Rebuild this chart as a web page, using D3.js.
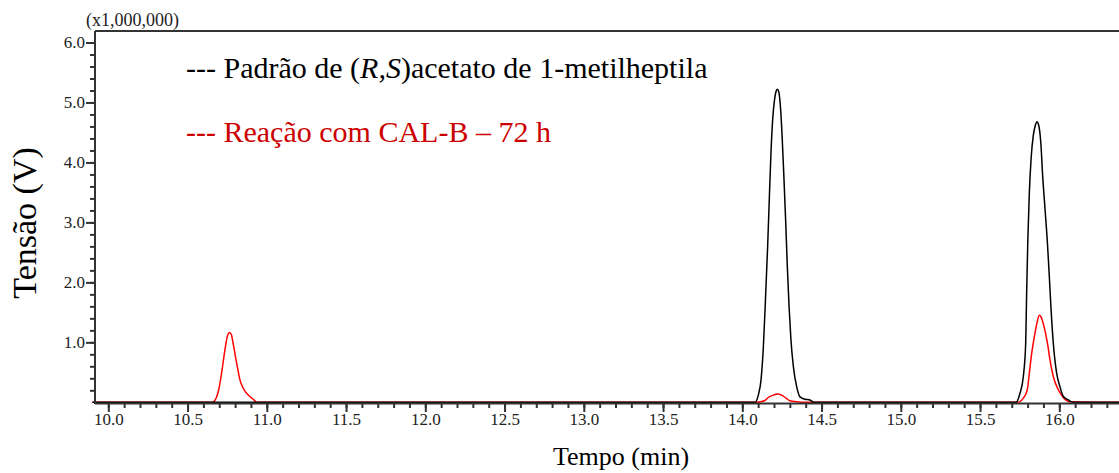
<!DOCTYPE html>
<html>
<head>
<meta charset="utf-8">
<script src="https://cdn.jsdelivr.net/npm/d3@7"></script>
<style>
    body { margin: 0; background: #fff; }
    text { font-family: "Liberation Serif", "Times New Roman", serif; }
    .axis path, .axis line { stroke: #333; stroke-width: 2; }
    .axis text { fill: #222; font-size: 17px; font-family: "Liberation Serif", serif; }
</style>
</head>
<body>
<div id="plot"></div>
<script>
// chromatogram traces (time in min, signal x1,000,000)
const blackTime = [9.9, 14.08, 14.101, 14.118, 14.133, 14.147, 14.16, 14.171, 14.181, 14.192, 14.204, 14.215, 14.221, 14.23, 14.24, 14.251, 14.263, 14.274, 14.284, 14.295, 14.307, 14.322, 14.343, 14.364, 14.396, 14.427, 14.452,
    15.727, 15.752, 15.773, 15.788, 15.794, 15.801, 15.811, 15.822, 15.836, 15.849, 15.859, 15.87, 15.883, 15.895, 15.91, 15.925, 15.937, 15.948, 15.962, 15.983, 16.004, 16.025, 16.057, 16.084, 16.4];
const blackSignal = [0, 0, 0.12, 0.37, 0.93, 1.77, 2.61, 3.44, 4.17, 4.73, 5.06, 5.2, 5.22, 5.18, 4.95, 4.45, 3.72, 3.0, 2.27, 1.6, 1.04, 0.6, 0.26, 0.09, 0.05, 0.04, 0,
    0, 0.15, 0.43, 0.99, 1.83, 2.66, 3.5, 4.06, 4.45, 4.62, 4.68, 4.62, 4.34, 3.78, 3.22, 2.66, 2.1, 1.55, 0.99, 0.49, 0.26, 0.1, 0.04, 0, 0];

const redTime = [9.9, 10.658, 10.694, 10.715, 10.736, 10.751, 10.764, 10.776, 10.789, 10.81, 10.831, 10.852, 10.883, 10.915, 10.936,
    14.091, 14.143, 14.164, 14.196, 14.221, 14.248, 14.276, 14.305, 14.343, 14.385,
    15.735, 15.773, 15.798, 15.811, 15.826, 15.843, 15.859, 15.874, 15.885, 15.903, 15.925, 15.941, 15.962, 15.994, 16.025, 16.067, 16.4];
const redSignal = [0, 0, 0.18, 0.49, 0.88, 1.1, 1.166, 1.13, 0.96, 0.65, 0.37, 0.23, 0.12, 0.05, 0,
    0, 0.03, 0.08, 0.12, 0.14, 0.12, 0.07, 0.02, 0.01, 0,
    0, 0.07, 0.21, 0.49, 0.82, 1.1, 1.32, 1.45, 1.42, 1.27, 0.99, 0.71, 0.43, 0.21, 0.08, 0.01, 0];

const xMajor = [10.0, 10.5, 11.0, 11.5, 12.0, 12.5, 13.0, 13.5, 14.0, 14.5, 15.0, 15.5, 16.0];
const xMinor = d3.range(100, 164).map(d => d / 10);
const yMajor = [1.0, 2.0, 3.0, 4.0, 5.0, 6.0];
const yMinor = d3.range(1, 31).map(d => d / 5);

const width = 1119, height = 473;
const plotLeft = 95, plotTop = 31, axisY = 403, zeroY = 402.3;

const svg = d3.select('#plot')
    .append('svg')
    .attr('width', width)
    .attr('height', height);

const x = d3.scaleLinear().domain([10, 16]).range([108.3, 1059.3]);
const y = d3.scaleLinear().domain([0, 6]).range([zeroY, 42.5]);

// frame top line
svg.append('line')
    .attr('x1', plotLeft).attr('x2', width)
    .attr('y1', plotTop).attr('y2', plotTop)
    .attr('stroke', '#333').attr('stroke-width', 2);

// traces
const line = d3.line()
    .x(d => x(d[0]))
    .y(d => y(d[1]))
    .curve(d3.curveMonotoneX);

svg.append('path')
    .datum(d3.zip(redTime, redSignal))
    .attr('fill', 'none')
    .attr('stroke', '#ff0000')
    .attr('stroke-width', 1.5)
    .attr('d', line);

svg.append('path')
    .datum(d3.zip(blackTime, blackSignal))
    .attr('fill', 'none')
    .attr('stroke', '#000')
    .attr('stroke-width', 1.5)
    .attr('d', line);

// x axis
const xAxisMinor = svg.append('g')
    .attr('class', 'axis')
    .attr('transform', `translate(0, ${axisY})`)
    .call(d3.axisBottom(x).tickValues(xMinor).tickSize(5).tickFormat(''));
xAxisMinor.select('.domain').remove();

const xAxis = svg.append('g')
    .attr('class', 'axis')
    .attr('transform', `translate(0, ${axisY})`)
    .call(d3.axisBottom(x).tickValues(xMajor).tickSize(9).tickSizeOuter(0).tickPadding(1).tickFormat(d3.format('.1f')));
xAxis.select('.domain').attr('d', `M${plotLeft},0.5H${width}`);

// y axis
const yAxisMinor = svg.append('g')
    .attr('class', 'axis')
    .attr('transform', `translate(${plotLeft}, 0)`)
    .call(d3.axisLeft(y).tickValues(yMinor).tickSize(5).tickFormat(''));
yAxisMinor.select('.domain').remove();

const yAxis = svg.append('g')
    .attr('class', 'axis')
    .attr('transform', `translate(${plotLeft}, 0)`)
    .call(d3.axisLeft(y).tickValues(yMajor).tickSize(9).tickPadding(1).tickFormat(d3.format('.1f')));
yAxis.select('.domain').attr('d', `M0,${plotTop}V${axisY + 1}`);

svg.append('text')
    .attr('x', 86).attr('y', 26)
    .style('font-size', '18px')
    .attr('fill', '#222')
    .text('(x1,000,000)');

// axis titles
svg.append('text')
    .attr('x', 621).attr('y', 465)
    .attr('text-anchor', 'middle')
    .style('font-size', '26px')
    .text('Tempo (min)');

svg.append('text')
    .attr('transform', 'translate(36, 223) rotate(-90)')
    .attr('text-anchor', 'middle')
    .style('font-size', '34px')
    .text('Tensão (V)');

// legend
const legend1 = svg.append('text')
    .attr('x', 186).attr('y', 78)
    .style('font-size', '30px')
    .attr('fill', '#000');
legend1.append('tspan').text('--- Padrão de (');
legend1.append('tspan').style('font-style', 'italic').text('R,S');
legend1.append('tspan').text(')acetato de 1-metilheptila');

svg.append('text')
    .attr('x', 186).attr('y', 142)
    .style('font-size', '30px')
    .attr('fill', '#cc0000')
    .text('--- Reação com CAL-B – 72 h');
</script>
</body>
</html>
